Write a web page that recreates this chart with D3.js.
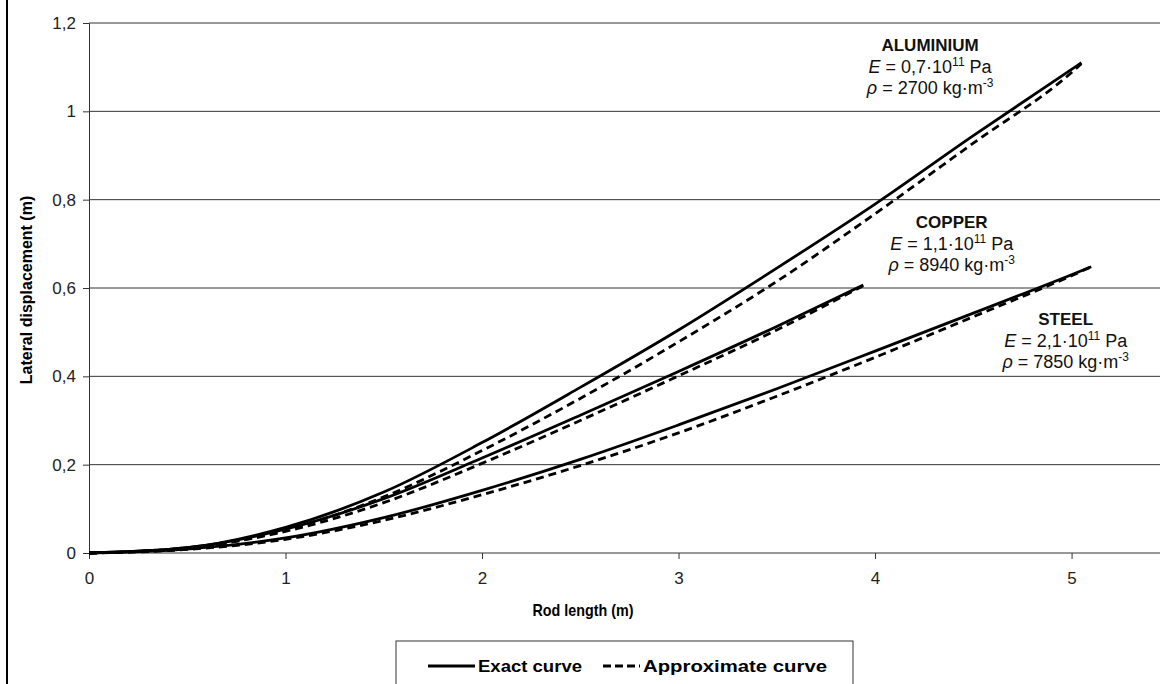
<!DOCTYPE html>
<html>
<head>
<meta charset="utf-8">
<script src="https://cdn.jsdelivr.net/npm/d3@7"></script>
<style>
    body { margin: 0; background: #fff; }
    svg { display: block; font-family: "Liberation Sans", Arial, sans-serif; }
</style>
</head>
<body>
<svg></svg>
<script>

// rod length (m) and lateral displacement (m)
const alX = [0, 0.5, 1, 1.5, 2, 2.5, 3, 3.5, 4, 4.5, 5, 5.05]
const alExact = [0, 0.012, 0.058, 0.138, 0.25, 0.375, 0.505, 0.645, 0.79, 0.945, 1.095, 1.11]
const alApprox = [0, 0.011, 0.052, 0.127, 0.232, 0.35, 0.478, 0.615, 0.768, 0.928, 1.088, 1.108]

const cuX = [0, 0.5, 1, 1.5, 2, 2.5, 3, 3.5, 3.94]
const cuExact = [0, 0.012, 0.054, 0.123, 0.215, 0.312, 0.411, 0.513, 0.607]
const cuApprox = [0, 0.011, 0.049, 0.114, 0.203, 0.3, 0.401, 0.505, 0.605]

const stX = [0, 0.5, 1, 1.5, 2, 2.5, 3, 3.5, 4, 4.5, 5, 5.1]
const stExact = [0, 0.009, 0.034, 0.08, 0.142, 0.212, 0.29, 0.372, 0.457, 0.543, 0.63, 0.648]
const stApprox = [0, 0.008, 0.031, 0.074, 0.132, 0.198, 0.272, 0.355, 0.443, 0.535, 0.628, 0.648]

const xTicks = [0, 1, 2, 3, 4, 5]
const yTicks = [0, 0.2, 0.4, 0.6, 0.8, 1, 1.2]

const materials = [
    { name: "ALUMINIUM", E: "0,7", rho: "2700", lx: 4.28, ly: 1.136 },
    { name: "COPPER", E: "1,1", rho: "8940", lx: 4.39, ly: 0.736 },
    { name: "STEEL", E: "2,1", rho: "7850", lx: 4.97, ly: 0.517 }
]

const width = 1160
const height = 684

const svg = d3.select("svg")
    .attr("width", width)
    .attr("height", height)

const x = d3.scaleLinear().domain([0, 5.45]).range([89, 1160])
const y = d3.scaleLinear().domain([0, 1.2]).range([553, 23])

// left frame line
svg.append("line")
    .attr("x1", 7).attr("x2", 7)
    .attr("y1", 0).attr("y2", height)
    .attr("stroke", "#000")
    .attr("stroke-width", 2)

// gridlines
svg.append("g")
    .selectAll("line")
    .data(yTicks.filter(d => d > 0))
    .enter()
    .append("line")
    .attr("x1", x(0)).attr("x2", width)
    .attr("y1", d => y(d)).attr("y2", d => y(d))
    .attr("stroke", "#333")
    .attr("stroke-width", 1)

const commaFormat = d => String(+d.toFixed(1)).replace(".", ",")

svg.append("g")
    .attr("transform", `translate(${x(0)},0)`)
    .call(d3.axisLeft(y).tickValues(yTicks).tickSize(6).tickPadding(7).tickFormat(commaFormat))

const xAxis = svg.append("g")
    .attr("transform", `translate(0,${y(0)})`)
    .call(d3.axisBottom(x).tickValues(xTicks).tickSize(6).tickPadding(13).tickFormat(d => d))

svg.selectAll(".domain").attr("stroke", "#333")
svg.selectAll(".tick line").attr("stroke", "#333")
svg.selectAll(".tick text")
    .style("font-size", "17px")
    .style("font-family", "Liberation Sans, Arial, sans-serif")
    .attr("fill", "#222")

// x-axis line runs to the right edge
xAxis.select(".domain").attr("d", `M${x(0)},0H${width}`)

// axis titles
svg.append("text")
    .attr("x", 583).attr("y", 616)
    .attr("text-anchor", "middle")
    .attr("font-family", "Liberation Sans Narrow, Liberation Sans, Arial, sans-serif")
    .attr("font-size", 17)
    .attr("font-weight", "bold")
    .attr("textLength", 101)
    .attr("lengthAdjust", "spacingAndGlyphs")
    .text("Rod length (m)")

svg.append("text")
    .attr("transform", "translate(32,290) rotate(-90)")
    .attr("text-anchor", "middle")
    .attr("font-size", 16)
    .attr("font-weight", "bold")
    .text("Lateral displacement (m)")

// curves
const series = [
    { xs: alX, ys: alExact, dash: null },
    { xs: alX, ys: alApprox, dash: "8,5" },
    { xs: cuX, ys: cuExact, dash: null },
    { xs: cuX, ys: cuApprox, dash: "8,5" },
    { xs: stX, ys: stExact, dash: null },
    { xs: stX, ys: stApprox, dash: "8,5" }
]

const line = d3.line()
    .x(d => x(d[0]))
    .y(d => y(d[1]))
    .curve(d3.curveMonotoneX)

svg.append("g")
    .selectAll("path")
    .data(series)
    .enter()
    .append("path")
    .attr("d", d => line(d.xs.map((v, i) => [v, d.ys[i]])))
    .attr("fill", "none")
    .attr("stroke", "#000")
    .attr("stroke-width", 2.8)
    .attr("stroke-dasharray", d => d.dash)

// material labels
const labels = svg.append("g")
    .selectAll("g")
    .data(materials)
    .enter()
    .append("g")
    .attr("transform", d => `translate(${x(d.lx)},${y(d.ly)})`)
    .attr("text-anchor", "middle")
    .attr("fill", "#111")

labels.append("text")
    .attr("y", 0)
    .attr("font-size", 17)
    .attr("font-weight", "bold")
    .text(d => d.name)

const eLine = labels.append("text")
    .attr("y", 22)
    .attr("font-size", 18)
eLine.append("tspan").attr("font-style", "italic").text("E")
eLine.append("tspan").text(d => " = " + d.E + "·10")
eLine.append("tspan").attr("font-size", 12).attr("dy", -7).text("11")
eLine.append("tspan").attr("dy", 7).text(" Pa")

const rLine = labels.append("text")
    .attr("y", 43)
    .attr("font-size", 18)
rLine.append("tspan").attr("font-style", "italic").text("ρ")
rLine.append("tspan").text(d => " = " + d.rho + " kg·m")
rLine.append("tspan").attr("font-size", 12).attr("dy", -7).text("-3")

// legend
const legend = svg.append("g")

legend.append("rect")
    .attr("x", 396).attr("y", 641)
    .attr("width", 457).attr("height", 60)
    .attr("fill", "#fff")
    .attr("stroke", "#333")
    .attr("stroke-width", 1)

const legendItems = [
    { label: "Exact curve", dash: null, x1: 428, x2: 475, w: 104 },
    { label: "Approximate curve", dash: "8,4", x1: 603, x2: 640, w: 184 }
]

legendItems.forEach(function (item) {
    legend.append("line")
        .attr("x1", item.x1).attr("x2", item.x2)
        .attr("y1", 666).attr("y2", 666)
        .attr("stroke", "#000")
        .attr("stroke-width", 2.8)
        .attr("stroke-dasharray", item.dash)
    legend.append("text")
        .attr("x", item.x2 + 3).attr("y", 672)
        .attr("font-family", "Liberation Sans Narrow, Liberation Sans, Arial, sans-serif")
        .attr("font-size", 17)
        .attr("font-weight", "bold")
        .attr("textLength", item.w)
        .attr("lengthAdjust", "spacingAndGlyphs")
        .text(item.label)
})

</script>
</body>
</html>
